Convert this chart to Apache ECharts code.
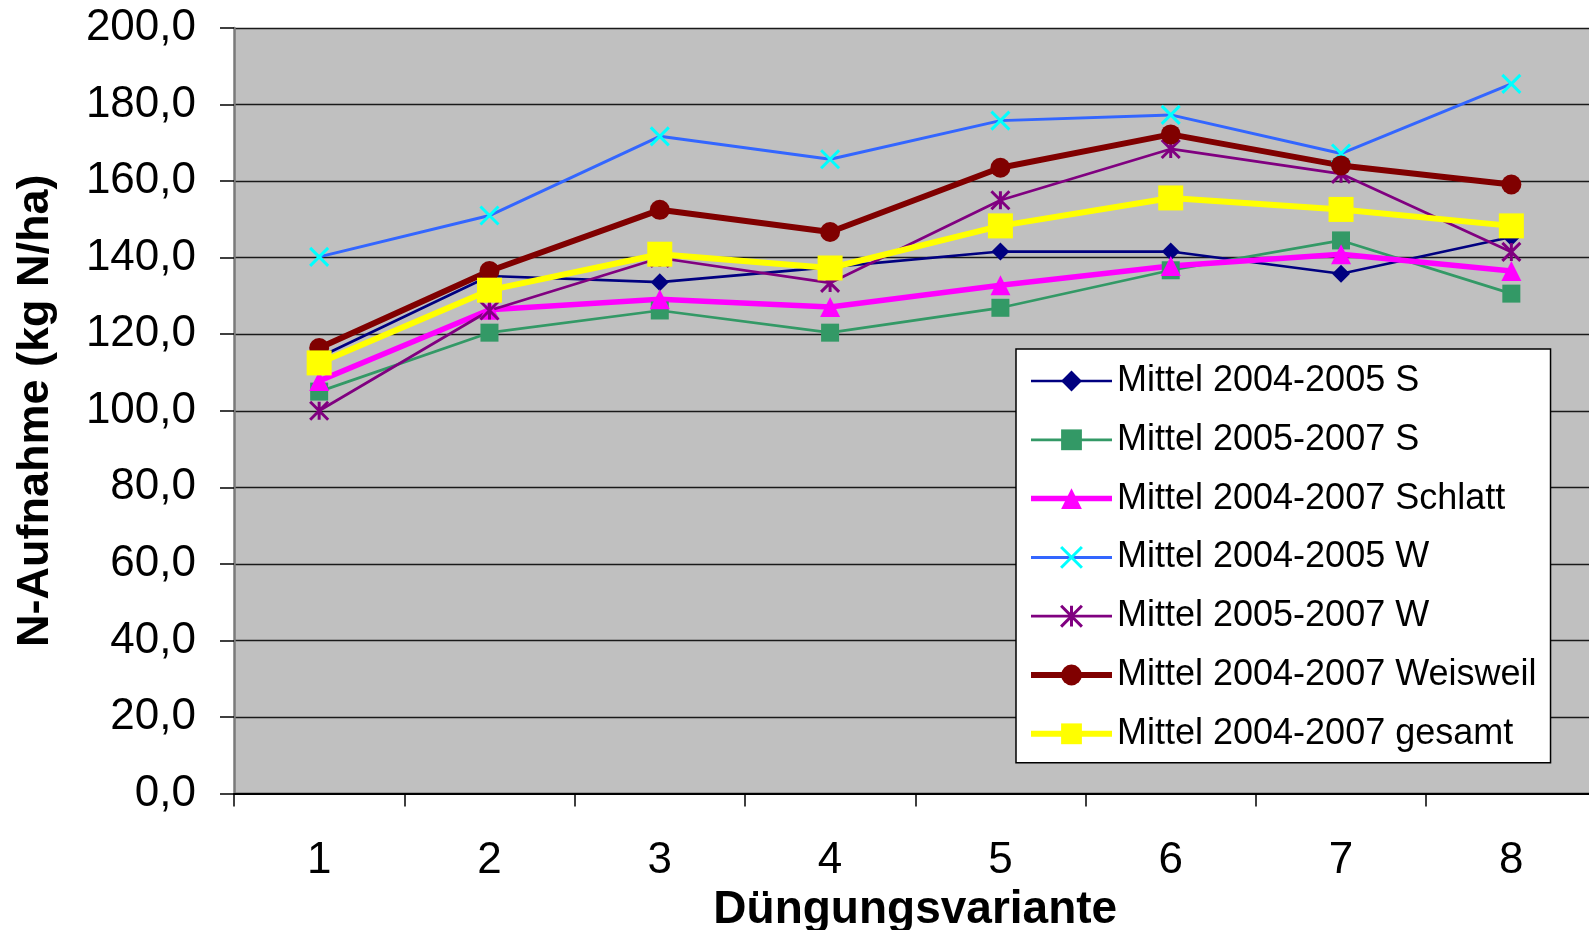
<!DOCTYPE html>
<html>
<head>
<meta charset="utf-8">
<script src="https://cdn.jsdelivr.net/npm/echarts@6/dist/echarts.min.js"></script>
<style>
html,body{margin:0;padding:0;background:#fff;}
#chart{width:1589px;height:930px;}
</style>
</head>
<body>
<div id="chart"></div>
<script>
var categories = ['1','2','3','4','5','6','7','8'];
var yTicks = [0,20,40,60,80,100,120,140,160,180,200];
var seriesNames = [
  'Mittel 2004-2005 S',
  'Mittel 2005-2007 S',
  'Mittel 2004-2007 Schlatt',
  'Mittel 2004-2005 W',
  'Mittel 2005-2007 W',
  'Mittel 2004-2007 Weisweil',
  'Mittel 2004-2007 gesamt'
];
var s2004_2005_S   = [114.0, 135.2, 133.6, 137.5, 141.6, 141.6, 135.8, 145.4];
var s2005_2007_S   = [105.0, 120.4, 126.2, 120.4, 126.9, 136.7, 144.5, 130.6];
var s2004_2007_Sch = [107.8, 126.4, 129.1, 127.1, 132.8, 137.8, 140.9, 136.5];
var s2004_2005_W   = [140.2, 151.0, 171.7, 165.7, 175.8, 177.3, 167.2, 185.4];
var s2005_2007_W   = [100.0, 126.2, 139.9, 133.4, 155.0, 168.4, 161.9, 141.5];
var s2004_2007_Wei = [116.4, 136.5, 152.5, 146.7, 163.5, 172.2, 164.1, 159.1];
var s2004_2007_ges = [112.5, 131.5, 140.9, 137.3, 148.3, 155.6, 152.6, 148.3];

var FONT = "'Liberation Sans', Arial, sans-serif";
var crossPath = 'path://M0,0 L10,10 M10,0 L0,10';
var starPath = 'path://M0,0 L10,10 M10,0 L0,10 M5,0 L5,10';

var styles = [
  { symbol: 'diamond', size: 18, line: '#000080', lw: 2.7, item: { color: '#000080' } },
  { symbol: 'rect', size: 18, line: '#339966', lw: 2.7, item: { color: '#339966' } },
  { symbol: 'triangle', size: 20, line: '#FF00FF', lw: 5.5, item: { color: '#FF00FF' } },
  { symbol: crossPath, size: 18, line: '#3366FF', lw: 3, item: { color: 'rgba(0,0,0,0)', borderColor: '#00FFFF', borderWidth: 3 } },
  { symbol: starPath, size: 18, line: '#800080', lw: 2.7, item: { color: 'rgba(0,0,0,0)', borderColor: '#800080', borderWidth: 3 } },
  { symbol: 'circle', size: 20, line: '#800000', lw: 6, item: { color: '#800000' } },
  { symbol: 'rect', size: 25, line: '#FFFF00', lw: 6, item: { color: '#FFFF00' } }
];
var dataArrays = [s2004_2005_S, s2005_2007_S, s2004_2007_Sch, s2004_2005_W, s2005_2007_W, s2004_2007_Wei, s2004_2007_ges];

var series = seriesNames.map(function (n, i) {
  var st = styles[i];
  return {
    name: n, type: 'line', data: dataArrays[i],
    symbol: st.symbol, symbolSize: st.size,
    lineStyle: { color: st.line, width: st.lw },
    itemStyle: st.item
  };
});
var legendData = seriesNames.map(function (n, i) {
  var st = styles[i];
  return {
    name: n,
    lineStyle: { color: st.line, width: st.lw },
    itemStyle: st.item
  };
});

var chart = echarts.init(document.getElementById('chart'));
chart.setOption({
  animation: false,
  backgroundColor: '#ffffff',
  grid: {
    left: 234, top: 28, width: 1362.5, height: 765.5,
    outerBoundsMode: 'none',
    containLabel: false,
    show: true, backgroundColor: '#C0C0C0', borderWidth: 0
  },
  xAxis: {
    type: 'category',
    data: categories,
    boundaryGap: true,
    axisLine: { show: true, lineStyle: { color: '#000', width: 2 } },
    axisTick: { show: true, interval: 0, length: 13, lineStyle: { color: '#000', width: 1.5 } },
    axisLabel: { fontFamily: FONT, fontSize: 44, color: '#000', margin: 45, interval: 0 },
    splitLine: { show: false },
    name: 'Düngungsvariante',
    nameLocation: 'middle',
    nameGap: 84,
    nameTextStyle: { fontFamily: FONT, fontSize: 46, fontWeight: 'bold', color: '#000' }
  },
  yAxis: {
    type: 'value',
    min: 0, max: 200, interval: 20,
    axisLine: { show: true, lineStyle: { color: '#7a7a7a', width: 2.5 } },
    axisTick: { show: true, length: 14, lineStyle: { color: '#000', width: 1.5 } },
    axisLabel: {
      fontFamily: FONT, fontSize: 44, color: '#000', margin: 38,
      formatter: function (v) { return v.toFixed(1).replace('.', ','); }
    },
    splitLine: { show: true, lineStyle: { color: '#1a1a1a', width: 1.3 } },
    name: 'N-Aufnahme (kg N/ha)',
    nameLocation: 'middle',
    nameRotate: 90,
    nameGap: 176,
    nameTextStyle: { fontFamily: FONT, fontSize: 45, fontWeight: 'bold', color: '#000' }
  },
  legend: {
    orient: 'vertical',
    left: 1016, top: 349,
    padding: [14, 14, 11, 12],
    itemWidth: 81, itemHeight: 26, itemGap: 22.8,
    backgroundColor: '#ffffff',
    borderColor: '#000', borderWidth: 1.5,
    textStyle: { fontFamily: FONT, fontSize: 36, color: '#000', lineHeight: 35, padding: 0 },
    data: legendData
  },
  series: series
});
</script>
</body>
</html>
